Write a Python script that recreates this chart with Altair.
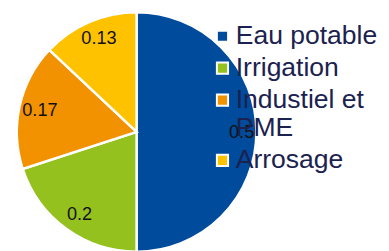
import altair as alt
import pandas as pd

categories = ["Eau potable", "Irrigation", "Industiel et PME", "Arrosage"]
values = [0.5, 0.2, 0.17, 0.13]
colors = ["#004b9b", "#95c11f", "#f39200", "#fec200"]

df = pd.DataFrame({"cat": categories, "val": values, "order": list(range(len(values)))})

cx, cy, R = 131, 124, 122

base = alt.Chart(df).encode(
    theta=alt.Theta("val:Q", stack=True),
    order=alt.Order("order:Q"),
)

pie = base.mark_arc(outerRadius=R, stroke="white", strokeWidth=2.5).encode(
    x=alt.value(cx), y=alt.value(cy),
    color=alt.Color(
        "cat:N",
        scale=alt.Scale(domain=categories, range=colors),
        sort=categories,
        legend=alt.Legend(
            title=None,
            orient="none",
            legendX=205,
            legendY=13,
            symbolType="square",
            symbolSize=130,
            symbolStrokeColor="white",
            symbolStrokeWidth=2,
            labelFont="Liberation Sans",
            labelFontSize=27,
            labelColor="#1b2250",
            labelOffset=0,
            labelLimit=300,
            rowPadding=4.5,
            labelExpr="datum.label == 'Industiel et PME' ? ['Industiel et', 'PME'] : datum.label",
        ),
    ),
)

ring = alt.Chart(pd.DataFrame({"v": [1]})).mark_arc(
    outerRadius=R + 1, innerRadius=R, color="#d9d9d9"
).encode(theta=alt.Theta("v:Q"), x=alt.value(cx), y=alt.value(cy))

labels = base.mark_text(
    radius=104, dx=3, font="Liberation Sans", fontSize=18.5, color="#111111"
).encode(
    x=alt.value(cx), y=alt.value(cy),
    text=alt.Text("val:Q"),
)

chart = alt.layer(ring, pie, labels).properties(
    width=380, height=243,
    autosize=alt.AutoSizeParams(type="none"),
    padding=0,
).configure_view(stroke=None)

chart.save("out.html", embed_options={"renderer": "svg", "actions": False})
